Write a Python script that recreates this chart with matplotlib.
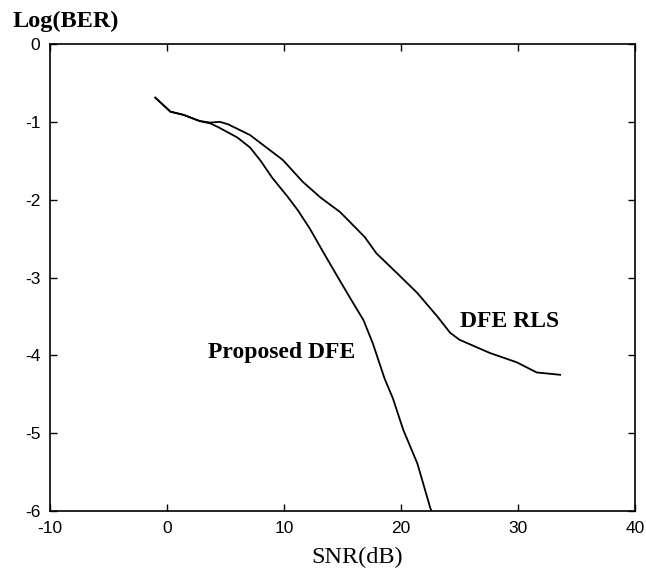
import matplotlib
matplotlib.use("Agg")
import matplotlib.pyplot as plt

plt.rcParams["axes.unicode_minus"] = False

# SNR (dB) and log10(BER) samples for each equalizer
snr_proposed = [-1.0, 0.3, 1.4, 2.8, 3.7, 4.4, 6.0, 7.1, 8.0, 9.0, 10.3, 11.2,
                12.2, 13.3, 14.5, 15.6, 16.8, 17.6, 18.6, 19.3, 20.2, 21.4, 22.5, 22.6]
ber_proposed = [-0.69, -0.87, -0.91, -0.99, -1.02, -1.07, -1.20, -1.33, -1.50, -1.72, -1.96, -2.14,
                -2.37, -2.66, -2.97, -3.25, -3.55, -3.85, -4.30, -4.55, -4.96, -5.39, -5.96, -6.0]

snr_rls = [-1.0, 0.3, 1.4, 2.8, 3.7, 4.5, 5.2, 7.1, 8.5, 9.9, 11.6, 13.1, 14.8,
           16.9, 17.9, 19.7, 21.4, 23.1, 24.2, 25.0, 27.6, 29.9, 31.6, 33.6]
ber_rls = [-0.69, -0.87, -0.91, -0.99, -1.01, -1.00, -1.03, -1.17, -1.33, -1.49, -1.77, -1.97, -2.16,
           -2.48, -2.69, -2.95, -3.20, -3.50, -3.71, -3.80, -3.97, -4.09, -4.22, -4.25]

xticks = [-10, 0, 10, 20, 30, 40]
yticks = [0, -1, -2, -3, -4, -5, -6]

W, H = 646, 573
fig = plt.figure(figsize=(W / 100, H / 100), dpi=100)
ax = fig.add_axes([50 / W, 1 - 511 / H, 585 / W, 467 / H])

ax.plot(snr_proposed, ber_proposed, color="black", lw=1.3)
ax.plot(snr_rls, ber_rls, color="black", lw=1.3)

ax.set_xlim(-10, 40)
ax.set_ylim(-6, 0)
ax.set_xticks(xticks)
ax.set_yticks(yticks)
ax.set_xticklabels([str(v) for v in xticks])
ax.set_yticklabels([str(v) for v in yticks])
ax.tick_params(direction="in", length=5, width=1, top=True, right=True,
               labelsize=12.5, pad=7)
for lab in ax.get_xticklabels() + ax.get_yticklabels():
    lab.set_fontfamily("Liberation Sans")
for s in ax.spines.values():
    s.set_linewidth(1.2)

serif = ["Liberation Serif", "DejaVu Serif"]
ax.text(29.3, -3.57, "DFE RLS", ha="center", va="center",
        fontsize=17, fontweight="bold", family=serif)
ax.text(9.8, -3.97, "Proposed DFE", ha="center", va="center",
        fontsize=17, fontweight="bold", family=serif)

fig.text(13 / W, 1 - 21 / H, "Log(BER)", ha="left", va="center",
         fontsize=17.5, fontweight="bold", family=serif)
fig.text(357 / W, 1 - 557 / H, "SNR(dB)", ha="center", va="center",
         fontsize=17.5, family=serif)

fig.savefig("out.png", dpi=100)
